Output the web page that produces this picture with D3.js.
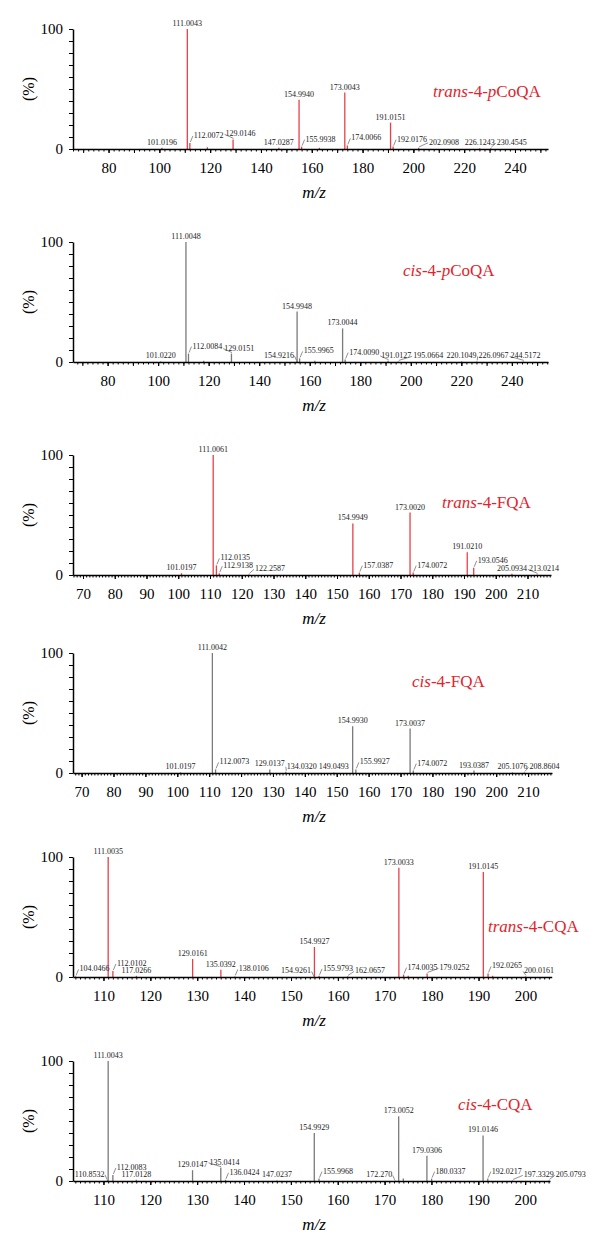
<!DOCTYPE html>
<html>
<head>
<meta charset="utf-8">
<script src="https://cdn.jsdelivr.net/npm/d3@7"></script>
<style>
  body { margin: 0; background: #fff; }
  text { font-family: 'Liberation Serif', 'Times New Roman', serif; }
</style>
</head>
<body>
<script>
// MS/MS spectra, relative intensity (%) per fragment m/z
const transPCoQA = [
  { mz: '101.0196', pct: 1 }, { mz: '111.0043', pct: 100 }, { mz: '112.0072', pct: 5 },
  { mz: '118.9', pct: 1.5, hide: true }, { mz: '129.0146', pct: 8 }, { mz: '147.0287', pct: 1 },
  { mz: '154.9940', pct: 41 }, { mz: '155.9938', pct: 2 }, { mz: '163.0', pct: 1, hide: true },
  { mz: '173.0043', pct: 47 }, { mz: '174.0066', pct: 3 }, { mz: '191.0151', pct: 22 },
  { mz: '192.0176', pct: 2 }, { mz: '202.0908', pct: 1 }, { mz: '226.1243', pct: 0.6 },
  { mz: '230.4545', pct: 0.6 }
];
const cisPCoQA = [
  { mz: '101.0220', pct: 0.5 }, { mz: '111.0048', pct: 100 }, { mz: '112.0084', pct: 7 },
  { mz: '118.0', pct: 1, hide: true }, { mz: '129.0151', pct: 7 }, { mz: '154.9216', pct: 1 },
  { mz: '154.9948', pct: 42 }, { mz: '155.9965', pct: 3 }, { mz: '162.0', pct: 1, hide: true },
  { mz: '173.0044', pct: 28 }, { mz: '174.0090', pct: 2 }, { mz: '191.0127', pct: 1 },
  { mz: '195.0664', pct: 0.5 }, { mz: '220.1049', pct: 0.5 }, { mz: '226.0967', pct: 0.5 },
  { mz: '244.5172', pct: 0.5 }
];
const transFQA = [
  { mz: '101.0197', pct: 1.5 }, { mz: '111.0061', pct: 100 }, { mz: '112.0135', pct: 8 },
  { mz: '112.9138', pct: 1.5 }, { mz: '122.2587', pct: 0.5 }, { mz: '154.9949', pct: 43 },
  { mz: '157.0387', pct: 2 }, { mz: '173.0020', pct: 52 }, { mz: '174.0072', pct: 2 },
  { mz: '191.0210', pct: 19 }, { mz: '193.0546', pct: 6 }, { mz: '205.0934', pct: 1 },
  { mz: '213.0214', pct: 0.5 }
];
const cisFQA = [
  { mz: '101.0197', pct: 0.5 }, { mz: '111.0042', pct: 100 }, { mz: '112.0073', pct: 3 },
  { mz: '129.0137', pct: 3 }, { mz: '134.0320', pct: 1 }, { mz: '149.0493', pct: 0.5 },
  { mz: '154.9930', pct: 39 }, { mz: '155.9927', pct: 3 }, { mz: '173.0037', pct: 37 },
  { mz: '174.0072', pct: 2 }, { mz: '193.0387', pct: 2 }, { mz: '205.1076', pct: 0.5 },
  { mz: '208.8604', pct: 0.5 }
];
const transCQA = [
  { mz: '104.0466', pct: 0.5 }, { mz: '111.0035', pct: 100 }, { mz: '112.0102', pct: 5 },
  { mz: '117.0266', pct: 1 }, { mz: '129.0161', pct: 15 }, { mz: '135.0392', pct: 6 },
  { mz: '138.0106', pct: 0.5 }, { mz: '154.9261', pct: 0.5 }, { mz: '154.9927', pct: 25 },
  { mz: '155.9793', pct: 1 }, { mz: '162.0657', pct: 0.5 }, { mz: '173.0033', pct: 91 },
  { mz: '174.0035', pct: 2 }, { mz: '175.0', pct: 1, hide: true }, { mz: '179.0252', pct: 3 },
  { mz: '191.0145', pct: 87.5 }, { mz: '192.0265', pct: 3 }, { mz: '193.0', pct: 1, hide: true },
  { mz: '200.0161', pct: 0.5 }
];
const cisCQA = [
  { mz: '110.8532', pct: 1 }, { mz: '111.0043', pct: 100 }, { mz: '112.0083', pct: 5 },
  { mz: '117.0128', pct: 1 }, { mz: '129.0147', pct: 9 }, { mz: '135.0414', pct: 11 },
  { mz: '136.0424', pct: 1 }, { mz: '147.0237', pct: 0.5 }, { mz: '154.9929', pct: 40 },
  { mz: '155.9968', pct: 2 }, { mz: '172.270', pct: 0.5 }, { mz: '173.0052', pct: 54 },
  { mz: '174.0', pct: 2, hide: true }, { mz: '179.0306', pct: 21 }, { mz: '180.0337', pct: 2 },
  { mz: '191.0146', pct: 38 }, { mz: '192.0217', pct: 2 }, { mz: '197.3329', pct: 0.5 },
  { mz: '205.0793', pct: 0.5 }
];

// tick labels
const ticksPCoQA = [80, 100, 120, 140, 160, 180, 200, 220, 240];
const ticksFQA = [70, 80, 90, 100, 110, 120, 130, 140, 150, 160, 170, 180, 190, 200, 210];
const ticksCQA = [110, 120, 130, 140, 150, 160, 170, 180, 190, 200];

const RED = '#e3232b';
const RED_LINE = '#e8404a';
const GRAY_LINE = '#7a7a7a';

const panels = [
  { peaks: transPCoQA, ticks: ticksPCoQA, minor: 2, iso: 'trans', acid: 'CoQA', p: true, line: RED_LINE,
    top: 29, zero: 149, x0: 73, x1: 548, domain: [66, 253], tx: 433, ty: 97 },
  { peaks: cisPCoQA, ticks: ticksPCoQA, minor: 2, iso: 'cis', acid: 'CoQA', p: true, line: GRAY_LINE,
    top: 242, zero: 362, x0: 73, x1: 548, domain: [66.3, 254.3], tx: 403, ty: 276 },
  { peaks: transFQA, ticks: ticksFQA, minor: 1, iso: 'trans', acid: 'FQA', p: false, line: RED_LINE,
    top: 455, zero: 575, x0: 73, x1: 551, domain: [66.85, 217.4], tx: 442, ty: 508 },
  { peaks: cisFQA, ticks: ticksFQA, minor: 1, iso: 'cis', acid: 'FQA', p: false, line: GRAY_LINE,
    top: 653, zero: 773, x0: 73, x1: 552, domain: [67.3, 217.5], tx: 412, ty: 687 },
  { peaks: transCQA, ticks: ticksCQA, minor: 1, iso: 'trans', acid: 'CQA', p: false, line: RED_LINE,
    top: 857, zero: 977, x0: 73, x1: 551.7, domain: [103.5, 205.6], tx: 488, ty: 932 },
  { peaks: cisCQA, ticks: ticksCQA, minor: 1, iso: 'cis', acid: 'CQA', p: false, line: GRAY_LINE,
    top: 1061, zero: 1181, x0: 73, x1: 550, domain: [103.5, 205.3], tx: 458, ty: 1110 }
];

const svg = d3.select('body').append('svg')
  .attr('width', 600).attr('height', 1254);

panels.forEach(p => {
  const g = svg.append('g');
  const x = d3.scaleLinear().domain(p.domain).range([p.x0, p.x1]);
  const y = d3.scaleLinear().domain([0, 100]).range([p.zero, p.top]);

  // peaks
  const peaks = p.peaks.map(d => ({ ...d, v: +d.mz }));
  g.selectAll('.peak').data(peaks).join('line')
    .attr('x1', d => x(d.v)).attr('x2', d => x(d.v))
    .attr('y1', y(0)).attr('y2', d => y(d.pct))
    .attr('stroke', p.line).attr('stroke-width', 1.3);

  // x axis: minor, mid, labelled
  const lo = Math.ceil(p.domain[0] / p.minor) * p.minor;
  const minorVals = d3.range(lo, p.domain[1], p.minor);
  const tenVals = minorVals.filter(v => v % 10 === 0);
  const styleAxis = sel => {
    sel.selectAll('line').attr('stroke', '#000').attr('stroke-width', 1);
    sel.select('.domain').attr('stroke', '#000').attr('stroke-width', 1.5);
    sel.selectAll('text').attr('font-size', 15).attr('fill', '#000')
      .attr('font-family', "'Liberation Serif', serif");
  };
  g.append('g').attr('transform', `translate(0,${p.zero})`)
    .call(d3.axisBottom(x).tickValues(minorVals).tickSize(2.5).tickFormat(''))
    .call(s => s.select('.domain').remove()).call(styleAxis);
  g.append('g').attr('transform', `translate(0,${p.zero})`)
    .call(d3.axisBottom(x).tickValues(tenVals).tickSize(4).tickFormat(''))
    .call(s => s.select('.domain').remove()).call(styleAxis);
  g.append('g').attr('transform', `translate(0,${p.zero})`)
    .call(d3.axisBottom(x).tickValues(p.ticks).tickSize(4).tickSizeOuter(0).tickPadding(9).tickFormat(d3.format('d')))
    .call(styleAxis);

  // y axis
  g.append('g').attr('transform', `translate(${p.x0},0)`)
    .call(d3.axisLeft(y).tickValues(d3.range(0, 101, 10)).tickSize(4).tickSizeOuter(0).tickPadding(6)
      .tickFormat(d => (d === 0 || d === 100) ? d : ''))
    .call(styleAxis);

  // axis titles
  g.append('text')
    .attr('transform', `translate(34,${(p.top + p.zero) / 2}) rotate(-90)`)
    .attr('text-anchor', 'middle').attr('font-size', 16).text('(%)');
  const mz = g.append('text').attr('x', 314).attr('y', p.zero + 49)
    .attr('text-anchor', 'middle').attr('font-size', 17).attr('font-style', 'italic');
  mz.text('m/z');

  // compound name
  const t = g.append('text').attr('x', p.tx).attr('y', p.ty)
    .attr('font-size', 17).attr('fill', RED);
  t.append('tspan').attr('font-style', 'italic').text(p.iso);
  t.append('tspan').text('-4-');
  if (p.p) t.append('tspan').attr('font-style', 'italic').text('p');
  t.append('tspan').text(p.acid);

  // peak labels
  const placed = [];
  const overlaps = (a, b) => a.l < b.r && b.l < a.r && a.t < b.b && b.t < a.b;
  peaks.filter(d => !d.hide).forEach(d => {
    const px = x(d.v), top = y(d.pct);
    const txt = g.append('text').attr('font-size', 8).attr('fill', '#222').text(d.mz);
    const w = txt.node().getComputedTextLength();
    const tallerLeft = peaks.some(o => o !== d && o.pct > d.pct && o.v < d.v && d.v - o.v < 3);
    const tallerRight = peaks.some(o => o !== d && o.pct > d.pct && o.v > d.v && o.v - d.v < 1);
    let box, mode;
    if (tallerRight) {
      mode = 'left';
      const base = top - 3;
      box = { l: px - 3 - w, r: px - 3, t: base - 6, b: base };
    } else if (tallerLeft || px - w / 2 < p.x0 + 2) {
      mode = 'right';
      const base = top - 5;
      box = { l: px + 4, r: px + 4 + w, t: base - 6, b: base };
    } else {
      mode = 'center';
      const base = top - 3;
      box = { l: px - w / 2, r: px + w / 2, t: base - 6, b: base };
    }
    placed.forEach(b => {
      if (overlaps(box, b)) {
        const shift = b.r + 2 - box.l;
        box.l += shift; box.r += shift;
        if (mode === 'center') { mode = 'right'; }
      }
    });
    placed.push(box);
    txt.attr('x', box.l).attr('y', box.b);
    if (mode === 'right') {
      g.append('line').attr('x1', px + 0.5).attr('y1', top - 1)
        .attr('x2', box.l - 1).attr('y2', box.b - 2)
        .attr('stroke', '#444').attr('stroke-width', 0.6);
    } else if (mode === 'left') {
      g.append('line').attr('x1', px - 0.5).attr('y1', top - 0.5)
        .attr('x2', box.r + 0.5).attr('y2', box.b - 2)
        .attr('stroke', '#444').attr('stroke-width', 0.6);
    }
  });
});
</script>
</body>
</html>
